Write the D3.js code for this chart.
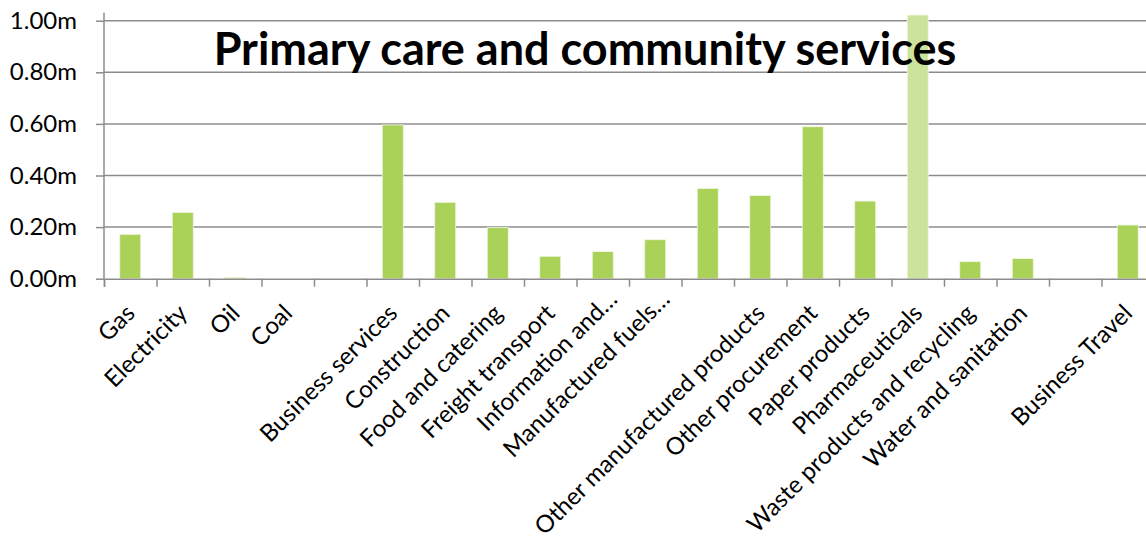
<!DOCTYPE html>
<html>
<head>
<meta charset="utf-8">
<script src="https://cdn.jsdelivr.net/npm/d3@7"></script>
<style>
  body { margin: 0; background: #fff; }
  svg { display: block; }
</style>
</head>
<body>
<script>
const width = 1146;
const height = 539;

// chart data
const categories = ["Gas", "Electricity", "Oil", "Coal", "", "Business services", "Construction",
    "Food and catering", "Freight transport", "Information and…", "Manufactured fuels…", "",
    "Other manufactured products", "Other procurement", "Paper products", "Pharmaceuticals",
    "Waste products and recycling", "Water and sanitation", "", "Business Travel"];
const values = [0.172, 0.257, 0.005, 0, 0, 0.596, 0.296, 0.198, 0.087, 0.105, 0.151, 0.350,
    0.323, 0.589, 0.301, 1.022, 0.066, 0.078, 0, 0.208];
const highlighted = ["Pharmaceuticals"];
const yTicks = [0, 0.2, 0.4, 0.6, 0.8, 1.0];
const title = "Primary care and community services";

var barColor = "#aad158";
var highlightColor = "#cce39c";
var gridColor = "#8c8c8c";
var textColor = "#000";
var font = "Lato, 'Open Sans', sans-serif";

const plot = { left: 104, right: 1154, top: 20.7, bottom: 278.7 };

const svg = d3.select("body")
    .append("svg")
    .attr("width", width)
    .attr("height", height)
    .style("background", "#fff");

const x = d3.scaleBand()
    .domain(d3.range(categories.length))
    .range([plot.left, plot.right])
    .paddingInner(0.6)
    .paddingOuter(0.3);

// boundaries between categories, where excel puts its tick marks
const xEdges = d3.scaleLinear()
    .domain([0, categories.length])
    .range([plot.left, plot.right]);

const y = d3.scaleLinear()
    .domain([0, 1])
    .range([plot.bottom, plot.top]);

// gridlines
svg.append("g")
    .selectAll("line")
    .data(yTicks.slice(1))
    .join("line")
    .attr("x1", plot.left)
    .attr("x2", plot.right)
    .attr("y1", d => y(d))
    .attr("y2", d => y(d))
    .attr("stroke", gridColor)
    .attr("stroke-width", 1.5);

// bars
svg.append("g")
    .selectAll("rect")
    .data(values)
    .join("rect")
    .attr("x", (d, i) => x(i))
    .attr("width", x.bandwidth())
    .attr("y", d => y(d))
    .attr("height", d => y(0) - y(d))
    .attr("fill", (d, i) => highlighted.includes(categories[i]) ? highlightColor : barColor)
    .attr("stroke", "#f2f8e6")
    .attr("stroke-width", 0.8);

// y axis
const yAxis = svg.append("g")
    .attr("transform", `translate(${plot.left},0)`)
    .call(d3.axisLeft(y)
        .tickValues(yTicks)
        .tickSize(8)
        .tickPadding(19)
        .tickFormat(d => d3.format(".2f")(d) + "m"));

yAxis.select(".domain")
    .attr("d", `M0,${plot.top - 8}V${plot.bottom}`);

// x axis tick marks
const xAxis = svg.append("g")
    .attr("transform", `translate(0,${plot.bottom})`)
    .call(d3.axisBottom(xEdges)
        .tickValues(d3.range(categories.length + 1))
        .tickSize(8)
        .tickFormat(""));

// x axis labels
const xLabels = svg.append("g")
    .attr("transform", `translate(0,${plot.bottom})`)
    .call(d3.axisBottom(x)
        .tickSize(0)
        .tickFormat(i => categories[i]));

xLabels.select(".domain").remove();
xLabels.selectAll("text")
    .attr("x", 0)
    .attr("y", 0)
    .attr("dy", 0)
    .attr("text-anchor", "end")
    .attr("transform", function (i) {
        // truncated labels sit a little higher in the reference
        return categories[i].endsWith("…")
            ? "translate(16,22) rotate(-45)"
            : "translate(6,36) rotate(-45)";
    });

[yAxis, xAxis].forEach(g => {
    g.selectAll(".domain, .tick line")
        .attr("stroke", gridColor)
        .attr("stroke-width", 1.5);
});

svg.selectAll(".tick text")
    .attr("fill", textColor)
    .style("font-family", font)
    .style("font-size", "24px");

// title, drawn over the bars
svg.append("text")
    .attr("x", 585)
    .attr("y", 65)
    .attr("text-anchor", "middle")
    .attr("fill", textColor)
    .style("font-family", font)
    .style("font-weight", "bold")
    .style("font-size", "45px")
    .text(title);
</script>
</body>
</html>
